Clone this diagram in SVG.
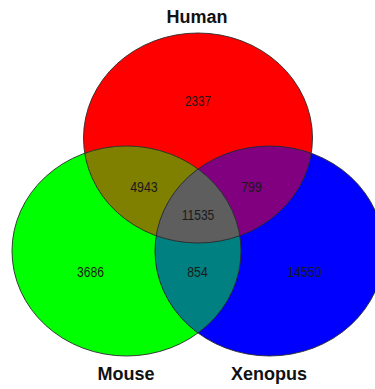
<svg xmlns="http://www.w3.org/2000/svg" width="375" height="389" viewBox="0 0 375 389">
  <style>
    .lbl { font-family: "Liberation Sans", Arial, sans-serif; font-weight: bold; font-size: 18px; fill: #111; text-anchor: middle; }
    .num { font-family: "Liberation Sans", Arial, sans-serif; font-size: 14px; fill: #1a1a1a; text-anchor: middle; }
    .edge { fill: none; stroke: #2a2a2a; stroke-width: 0.9; }
  </style>
  <defs>
    <ellipse id="eH" cx="198" cy="138" rx="114.5" ry="105"/>
    <ellipse id="eM" cx="126.5" cy="251" rx="114.5" ry="105"/>
    <ellipse id="eX" cx="269.5" cy="251" rx="114.5" ry="105"/>
    <clipPath id="cH"><use href="#eH"/></clipPath>
    <clipPath id="cM"><use href="#eM"/></clipPath>
  </defs>
  <rect width="375" height="389" fill="#ffffff"/>
  <g id="human">
    <use href="#eH" fill="#ff0000"/>
  </g>
  <g id="mouse">
    <use href="#eM" fill="#00ff00"/>
  </g>
  <g id="xenopus">
    <use href="#eX" fill="#0000ff"/>
  </g>
  <g id="overlaps">
    <g clip-path="url(#cH)">
      <use href="#eM" fill="#808000"/>
      <use href="#eX" fill="#800080"/>
    </g>
    <g clip-path="url(#cM)">
      <use href="#eX" fill="#008080"/>
      <g clip-path="url(#cH)">
        <use href="#eX" fill="#5e5e5e"/>
      </g>
    </g>
  </g>
  <g id="outlines">
    <use href="#eH" class="edge"/>
    <use href="#eM" class="edge"/>
    <use href="#eX" class="edge"/>
  </g>
  <g id="labels">
    <text class="lbl" x="197" y="23">Human</text>
    <text class="lbl" x="126" y="380">Mouse</text>
    <text class="lbl" x="269" y="380">Xenopus</text>
  </g>
  <g id="counts">
    <text class="num" x="198" y="106" textLength="26" lengthAdjust="spacingAndGlyphs">2337</text>
    <text class="num" x="144" y="192" textLength="27.5" lengthAdjust="spacingAndGlyphs">4943</text>
    <text class="num" x="251.5" y="192" textLength="20.5" lengthAdjust="spacingAndGlyphs">799</text>
    <text class="num" x="198" y="219.5" textLength="32.5" lengthAdjust="spacingAndGlyphs">11535</text>
    <text class="num" x="90.5" y="277" textLength="27" lengthAdjust="spacingAndGlyphs">3686</text>
    <text class="num" x="197.5" y="277" textLength="20.5" lengthAdjust="spacingAndGlyphs">854</text>
    <text class="num" x="304.5" y="277" textLength="34" lengthAdjust="spacingAndGlyphs">14550</text>
  </g>
</svg>
